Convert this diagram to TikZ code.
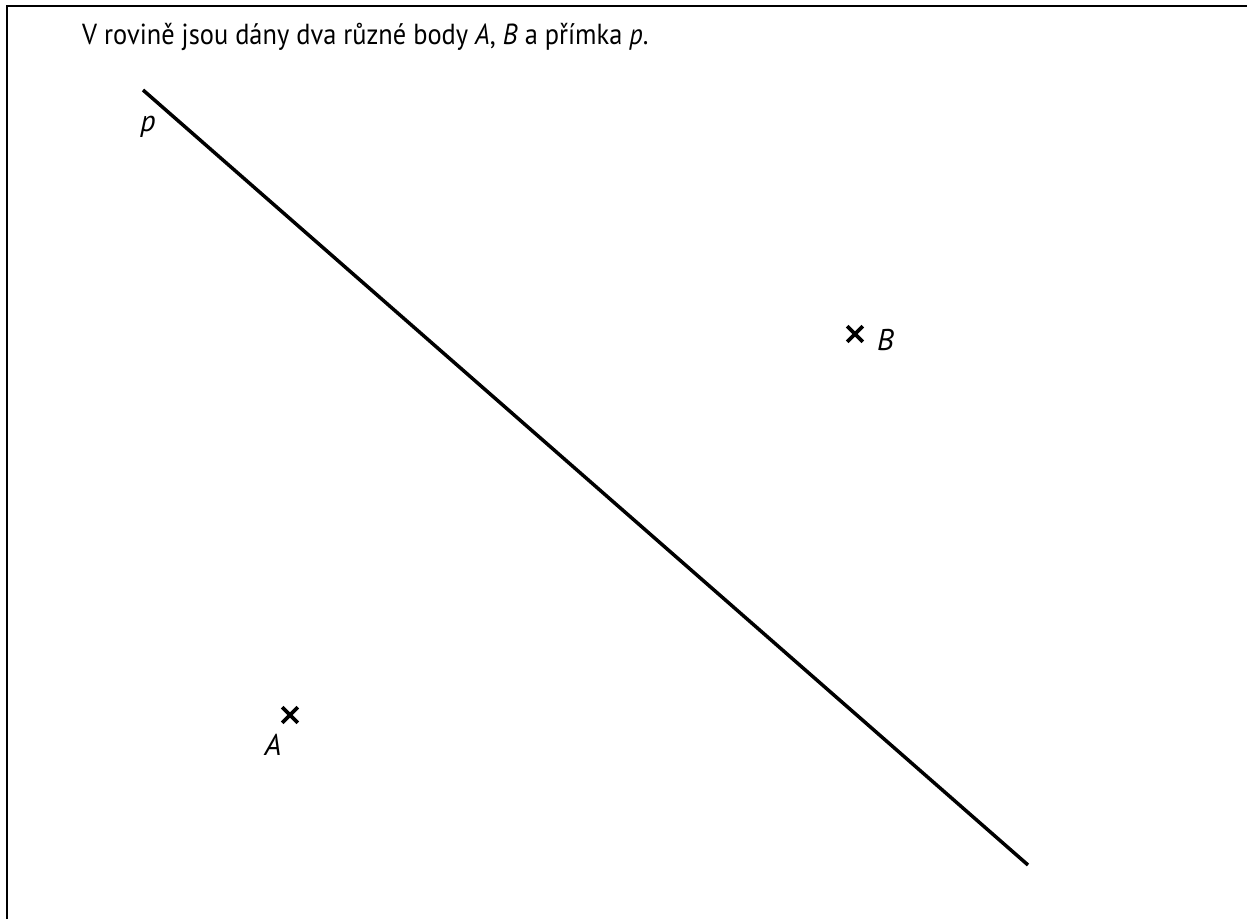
\documentclass[tikz,border=0pt]{standalone}
\usepackage{fontspec}
\setmainfont{PT Sans}
\usetikzlibrary{shapes.misc}

\begin{document}
\begin{tikzpicture}[x=1pt, y=-1pt, every node/.style={font=\fontsize{29}{34}\selectfont},
	pt/.style={draw, cross out, line width=3.6pt, minimum size=12pt, inner sep=0pt},
	lbl/.style={inner sep=0pt, font=\fontsize{30}{34}\selectfont\itshape}]
	\useasboundingbox (0,0) rectangle (1247,919);
	\draw[line width=2.8pt] (7,919) -- (7,6) -- (1247,6);
	\node[anchor=base west, inner sep=0pt] (title) at (82,44) {\scalebox{0.91}[1]{V rovině jsou dány dva různé body \textit{A}, \textit{B} a přímka \textit{p}.}};
	\coordinate (p1) at (143,90);
	\coordinate (p2) at (1028,865);
	\draw[line width=3.5pt] (p1) -- (p2);
	\node[lbl] (plbl) at (148,127) {p};
	\node[pt] (B) at (855,334) {};
	\node[lbl, anchor=west] (Blbl) at (877,340) {B};
	\node[pt] (A) at (290,715) {};
	\node[lbl] (Albl) at (273,745) {A};
\end{tikzpicture}
\end{document}
